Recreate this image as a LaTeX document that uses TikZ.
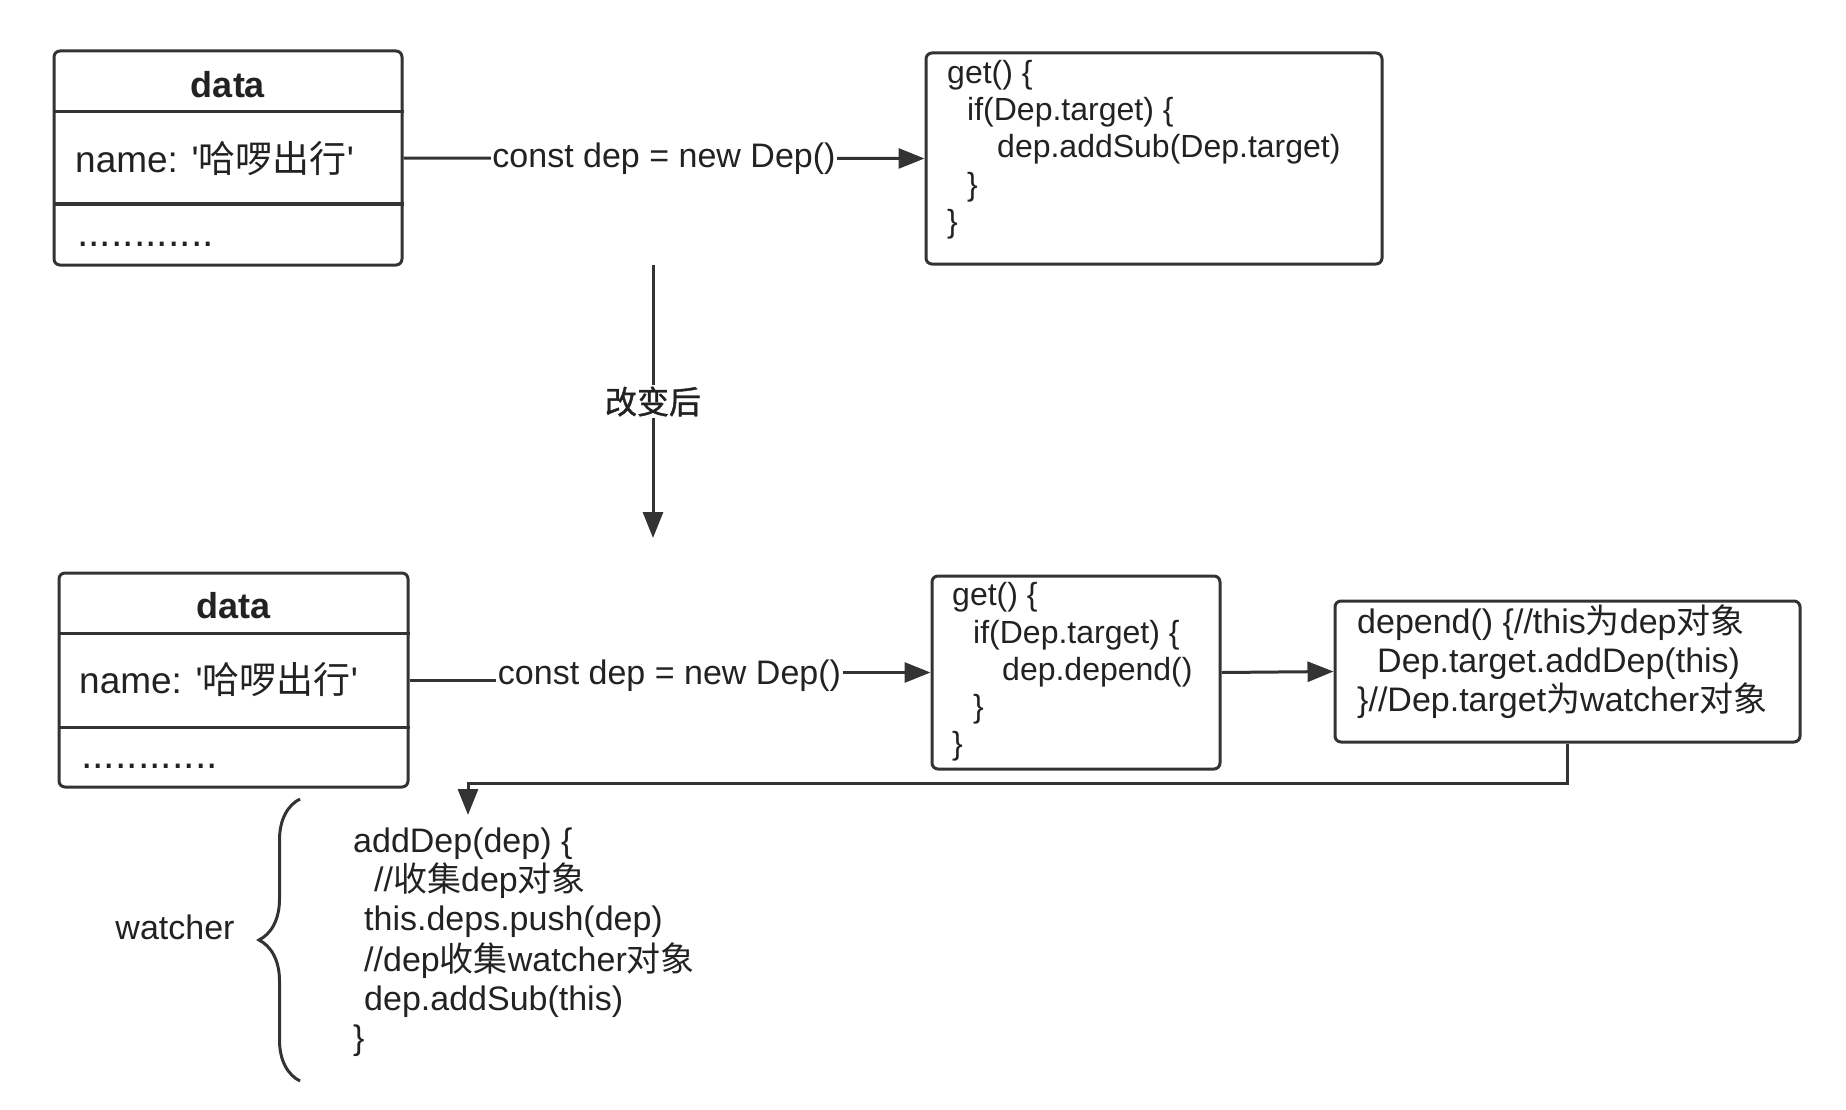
\documentclass[tikz,border=0pt]{standalone}
\usepackage{fontspec}
\setmainfont{Liberation Sans}
\newfontfamily\cjk{Noto Sans CJK SC}
\newfontfamily\cjkm[FakeBold=1.2]{Noto Sans CJK SC}
\usetikzlibrary{arrows.meta,decorations.pathreplacing,calc}
\definecolor{ln}{HTML}{333333}
\definecolor{tx}{HTML}{222222}
\begin{document}
\begin{tikzpicture}[x=1pt,y=-1pt,
  box/.style={draw=ln, line width=3pt, rounded corners=6pt, inner sep=0pt},
  divider/.style={draw=ln, line width=3pt},
  arr/.style={draw=ln, line width=3pt, -{Triangle[length=26pt,width=20pt]}},
  code/.style={anchor=base west, inner sep=0pt, text=tx, font=\fontsize{32}{37}\selectfont},
  codeb/.style={anchor=base west, inner sep=0pt, text=tx, font=\fontsize{34}{40}\selectfont},
  lbl/.style={fill=white, inner sep=1.5pt, text=tx, font=\fontsize{34}{40}\selectfont},
  title/.style={inner sep=0pt, text=tx, font=\bfseries\fontsize{36}{40}\selectfont},
  field/.style={anchor=base west, inner sep=0pt, text=tx, font=\fontsize{37}{42}\selectfont},
  dots/.style={anchor=base west, inner sep=0pt, text=tx, font=\fontsize{41}{42}\selectfont},
]
\useasboundingbox (0,0) rectangle (1846,1110);

% ---------- top row ----------
\node[box, minimum width=348pt, minimum height=214pt] (d1) at (228,158) {};
\draw[divider] (d1.west |- 0,112) -- (d1.east |- 0,112);
\draw[divider] (d1.west |- 0,204) -- (d1.east |- 0,204);
\node[title] (d1t) at (228,85) {data};
\node[field] (d1n) at (75,173) {name: \textquotesingle{\cjk 哈啰出行}\textquotesingle};
\node[dots] (d1e) at (77,246) {............};

\node[box, minimum width=456pt, minimum height=211pt] (g1) at (1154,158.5) {};
\node[code] (g1a) at (947,84) {get() \{};
\node[code] (g1b) at (967,121) {if(Dep.target) \{};
\node[code] (g1c) at (997,158) {dep.addSub(Dep.target)};
\node[code] (g1d) at (967,196) {\}};
\node[code] (g1e) at (947,233) {\}};

\draw[arr] (d1.east) -- (g1.west) node[lbl, midway] (l1) {const dep = new Dep()};

% ---------- change arrow ----------
\coordinate (v1) at (653,265);
\coordinate (v2) at (653,538);
\draw[arr] (v1) -- (v2) node[lbl, midway, font=\cjkm\fontsize{32}{36}\selectfont] (l2) {改变后};

% ---------- bottom row ----------
\node[box, minimum width=349pt, minimum height=214pt] (d2) at (233.5,680) {};
\draw[divider] (d2.west |- 0,633) -- (d2.east |- 0,633);
\draw[divider] (d2.west |- 0,727) -- (d2.east |- 0,727);
\node[title] (d2t) at (233.5,606) {data};
\node[field] (d2n) at (79,693) {name: \textquotesingle{\cjk 哈啰出行}\textquotesingle};
\node[dots] (d2e) at (81,768) {............};

\node[box, minimum width=288pt, minimum height=193pt] (g2) at (1076,672.5) {};
\node[code] (g2a) at (952,605) {get() \{};
\node[code] (g2b) at (973,643) {if(Dep.target) \{};
\node[code] (g2c) at (1002,680) {dep.depend()};
\node[code] (g2d) at (973,717) {\}};
\node[code] (g2e) at (952,754) {\}};

\node[box, minimum width=465pt, minimum height=141pt] (dp) at (1567.5,671.5) {};
\node[codeb] (dpa) at (1357,633) {depend() \{//this{\cjk 为}dep{\cjk 对象}};
\node[codeb] (dpb) at (1377,672) {Dep.target.addDep(this)};
\node[codeb] (dpc) at (1357,711) {\}//Dep.target{\cjk 为}watcher{\cjk 对象}};

\coordinate (j) at (669.5,676);
\draw[arr] (d2.east) -| (j) |- (g2.west);
\node[lbl] (l3) at (j) {const dep = new Dep()};

\draw[arr] (g2.east) -- (dp.west);

\coordinate (rt) at (468,815);
\draw[arr] (dp.south) -- ++(0,40) -| (rt);

% ---------- watcher ----------
\coordinate (bb) at (300,1081);
\coordinate (bt) at (300,799);
\draw[ln, line width=3pt, decorate, decoration={brace, amplitude=41pt}] (bb) -- (bt);
\node[inner sep=0pt, text=tx, font=\fontsize{34}{40}\selectfont] (wl) at (175,927) {watcher};

\node[codeb] (w1) at (353,852) {addDep(dep) \{};
\node[codeb] (w2) at (374,891) {//{\cjk 收集}dep{\cjk 对象}};
\node[codeb] (w3) at (364,930) {this.deps.push(dep)};
\node[codeb] (w4) at (364,971) {//dep{\cjk 收集}watcher{\cjk 对象}};
\node[codeb] (w5) at (364,1010) {dep.addSub(this)};
\node[codeb] (w6) at (353,1049) {\}};
\end{tikzpicture}
\end{document}
